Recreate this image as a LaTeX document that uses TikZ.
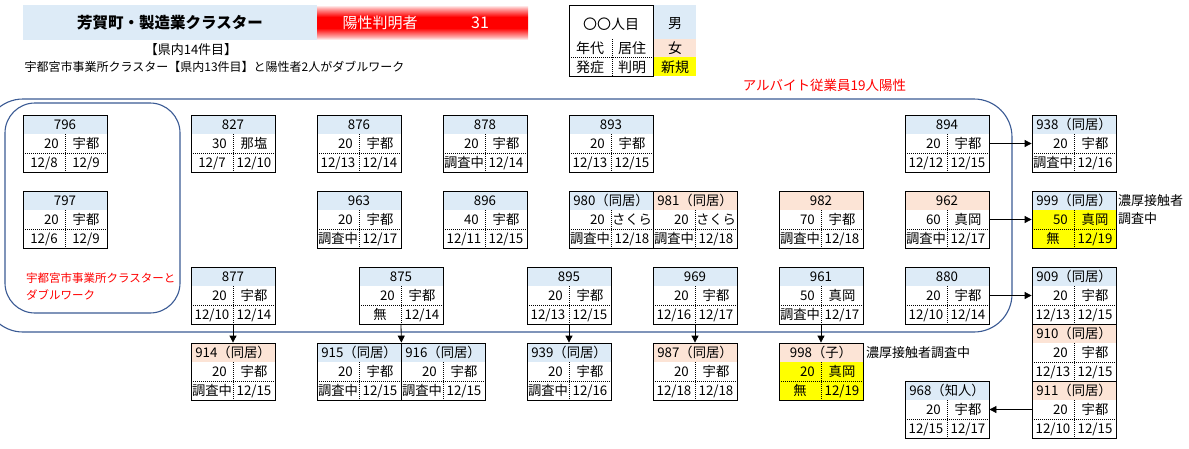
\documentclass[tikz,border=0pt]{standalone}
\usepackage{fontspec}
\setmainfont{Noto Sans CJK JP}
\usetikzlibrary{arrows.meta}
\definecolor{mblue}{HTML}{DDEBF7}
\definecolor{fpeach}{HTML}{FCE4D6}
\definecolor{nyellow}{HTML}{FFFF00}
\definecolor{grpline}{HTML}{3A5A94}
\pgfdeclareverticalshading{redbar}{100bp}{color(0bp)=(white); color(25bp)=(white); color(30bp)=(red!35); color(42bp)=(red); color(58bp)=(red); color(70bp)=(red!35); color(75bp)=(white); color(100bp)=(white)}
\tikzset{
  frame/.style={draw, line width=0.8pt, minimum width=84pt, minimum height=57pt, inner sep=0pt},
  dotline/.style={line width=0.8pt, dash pattern=on 0.8pt off 1.2pt},
  cell/.style={inner sep=0pt, anchor=base, font=\fontsize{13.3}{15}\selectfont},
  arr/.style={-{Triangle[length=7pt,width=7pt]}, line width=0.8pt},
  grp/.style={draw=grpline, line width=1.1pt},
  lbl/.style={inner sep=0pt, font=\fontsize{13}{15}\selectfont},
  lgd/.style={inner sep=0pt, font=\fontsize{14}{16}\selectfont},
  redlbl/.style={inner sep=0pt, text=red, font=\fontsize{11.5}{14}\selectfont, anchor=west},
}
\newcommand{\pbox}[9][white]{%
\begin{scope}[shift={(#3)}]
\fill[#4] (0,0) rectangle (84,19);
\fill[#1] (0,19) rectangle (84,57);
\draw[dotline] (0,38) -- (84,38);
\draw[dotline] (42,19) -- (42,57);
\node[frame] (#2) at (42,28.5) {};
\node[cell] (#2-h) at (42,14.3) {#5};
\node[cell,anchor=base east] (#2-a) at (36,33.3) {#6};
\node[cell] (#2-r) at (63,33.3) {#7};
\node[cell] (#2-o) at (21,52.3) {#8};
\node[cell] (#2-c) at (63,52.3) {#9};
\end{scope}}
\begin{document}
\begin{tikzpicture}[x=1pt,y=-1pt]
\useasboundingbox (0,0) rectangle (1189,448);
\clip (0,0) rectangle (1189,448);
% header
\node[fill=mblue, minimum width=294pt, minimum height=35pt, inner sep=0pt, font=\bfseries\fontsize{15.5}{18}\selectfont] (title) at (170,22.5) {芳賀町・製造業クラスター};
\shade[shading=redbar] (317,5) rectangle (528,40);
\node[inner sep=0pt, text=white, font=\fontsize{15}{18}\selectfont] (ylab) at (380,22.5) {陽性判明者};
\node[inner sep=0pt, text=white, font=\fontsize{16}{18}\selectfont] (ynum) at (480,22.5) {31};
\node[lbl] (sub1) at (191,50) {【県内14件目】};
\node[lbl, font=\fontsize{12}{14}\selectfont] (sub2) at (214.5,67) {宇都宮市事業所クラスター【県内13件目】と陽性者2人がダブルワーク};
% legend
\fill[mblue] (653,5) rectangle (696,39);
\fill[fpeach] (653,39) rectangle (696,57);
\fill[nyellow] (653,57) rectangle (696,76);
\draw[dotline] (569,57) -- (653,57);
\draw[dotline] (612,39) -- (612,76);
\node[draw, line width=0.8pt, minimum width=84pt, minimum height=71pt, inner sep=0pt] (legend) at (611,40.5) {};
\node[lgd] (lgA) at (611,24) {〇〇人目};
\node[lgd] (lgB) at (590,48.5) {年代};
\node[lgd] (lgC) at (632,48.5) {居住};
\node[lgd] (lgD) at (590,67) {発症};
\node[lgd] (lgE) at (632,67) {判明};
\node[lgd] (lgM) at (675,24) {男};
\node[lgd] (lgF) at (675,48.5) {女};
\node[lgd] (lgN) at (675,67) {新規};
% group frames
\draw[grp, rounded corners=38pt] (-15,99) rectangle (1012,332);
\draw[grp, rounded corners=30pt] (5,103) rectangle (180,313);
\node[inner sep=0pt, text=red, font=\fontsize{13.5}{16}\selectfont] (albeit) at (824.5,85) {アルバイト従業員19人陽性};
\node[redlbl] (dw1) at (26,278) {宇都宮市事業所クラスターと};
\node[redlbl] (dw2) at (26,295) {ダブルワーク};
% boxes row A
\pbox{n796}{23,115}{mblue}{796}{20}{宇都}{12/8}{12/9}
\pbox{n827}{191,115}{mblue}{827}{30}{那塩}{12/7}{12/10}
\pbox{n876}{317,115}{mblue}{876}{20}{宇都}{12/13}{12/14}
\pbox{n878}{443,115}{mblue}{878}{20}{宇都}{調査中}{12/14}
\pbox{n893}{569,115}{mblue}{893}{20}{宇都}{12/13}{12/15}
\pbox{n894}{905,115}{mblue}{894}{20}{宇都}{12/12}{12/15}
\pbox{n938}{1032,115}{mblue}{938（同居）}{20}{宇都}{調査中}{12/16}
% row B
\pbox{n797}{23,191}{mblue}{797}{20}{宇都}{12/6}{12/9}
\pbox{n963}{317,191}{mblue}{963}{20}{宇都}{調査中}{12/17}
\pbox{n896}{443,191}{mblue}{896}{40}{宇都}{12/11}{12/15}
\pbox{n980}{569,191}{mblue}{980（同居）}{20}{さくら}{調査中}{12/18}
\pbox{n981}{653,191}{fpeach}{981（同居）}{20}{さくら}{調査中}{12/18}
\pbox{n982}{779,191}{fpeach}{982}{70}{宇都}{調査中}{12/18}
\pbox{n962}{905,191}{fpeach}{962}{60}{真岡}{調査中}{12/17}
\pbox[nyellow]{n999}{1032,191}{mblue}{999（同居）}{50}{真岡}{無}{12/19}
% row C
\pbox{n877}{191,267}{mblue}{877}{20}{宇都}{12/10}{12/14}
\pbox{n875}{359,267}{mblue}{875}{20}{宇都}{無}{12/14}
\pbox{n895}{527,267}{mblue}{895}{20}{宇都}{12/13}{12/15}
\pbox{n969}{653,267}{mblue}{969}{20}{宇都}{12/16}{12/17}
\pbox{n961}{779,267}{mblue}{961}{50}{真岡}{調査中}{12/17}
\pbox{n880}{905,267}{mblue}{880}{20}{宇都}{12/10}{12/14}
\pbox{n909}{1032,267}{mblue}{909（同居）}{20}{宇都}{12/13}{12/15}
% row D
\pbox{n914}{191,343}{fpeach}{914（同居）}{20}{宇都}{調査中}{12/15}
\pbox{n915}{317,343}{mblue}{915（同居）}{20}{宇都}{調査中}{12/15}
\pbox{n916}{401,343}{mblue}{916（同居）}{20}{宇都}{調査中}{12/15}
\pbox{n939}{527,343}{mblue}{939（同居）}{20}{宇都}{調査中}{12/16}
\pbox{n987}{653,343}{fpeach}{987（同居）}{20}{宇都}{12/18}{12/18}
\pbox[nyellow]{n998}{779,343}{fpeach}{998（子）}{20}{真岡}{無}{12/19}
\pbox{n910}{1032,324}{fpeach}{910（同居）}{20}{宇都}{12/13}{12/15}
\pbox{n911}{1032,381}{fpeach}{911（同居）}{20}{宇都}{12/10}{12/15}
\pbox{n968}{905,381}{mblue}{968（知人）}{20}{宇都}{12/15}{12/17}
% notes
\node[lbl, anchor=west] (note1) at (1118,201) {濃厚接触者};
\node[lbl, anchor=west] (note2) at (1118,219) {調査中};
\node[lbl, anchor=west] (note3) at (866,353) {濃厚接触者調査中};
% connectors
\draw[arr] (n877.south) -- (n914.north);
\draw[arr] (n875.south) -- (n915.north east);
\draw[arr] (n895.south) -- (n939.north);
\draw[arr] (n969.south) -- (n987.north);
\draw[arr] (n961.south) -- (n998.north);
\draw[arr] (n894.east) -- (n938.west);
\draw[arr] (n962.east) -- (n999.west);
\draw[arr] (n880.east) -- (n909.west);
\draw[arr] (n911.west) -- (n968.east);
\end{tikzpicture}
\end{document}
